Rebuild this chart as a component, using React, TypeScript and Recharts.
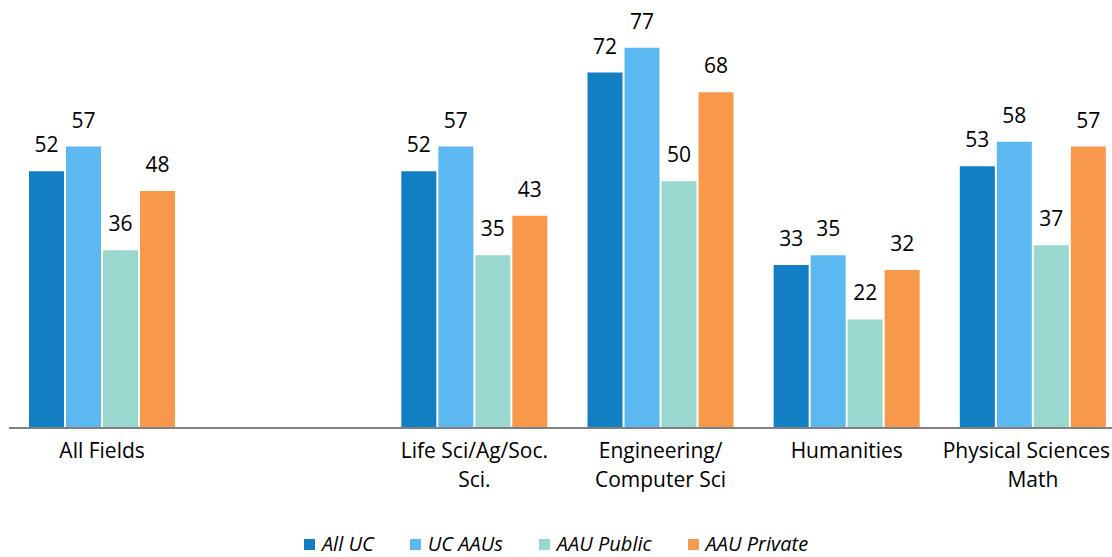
import { BarChart, Bar, XAxis, YAxis, LabelList, Legend } from "recharts";

const categories = [
  "All Fields",
  "",
  "Life Sci/Ag/Soc.\nSci.",
  "Engineering/\nComputer Sci",
  "Humanities",
  "Physical Sciences /\nMath",
];
const allUC = [52, null, 52, 72, 33, 53];
const ucAAUs = [57, null, 57, 77, 35, 58];
const aauPublic = [36, null, 35, 50, 22, 37];
const aauPrivate = [48, null, 43, 68, 32, 57];

const SERIES = [
  { key: "allUC", name: "All UC", color: "#127fc5" },
  { key: "ucAAUs", name: "UC AAUs", color: "#5bb8f0" },
  { key: "aauPublic", name: "AAU Public", color: "#98d8cf" },
  { key: "aauPrivate", name: "AAU Private", color: "#f7984a" },
];

const data = categories.map((name, i) => ({
  name,
  allUC: allUC[i],
  ucAAUs: ucAAUs[i],
  aauPublic: aauPublic[i],
  aauPrivate: aauPrivate[i],
}));

const FONT = "'Open Sans', sans-serif";

function CategoryTick({ x, y, payload }: any) {
  const lines = String(payload.value).split("\n");
  return (
    <text
      x={x}
      y={y}
      textAnchor="middle"
      fontFamily={FONT}
      fontSize={21}
      fill="#000"
    >
      {lines.map((line, i) => (
        <tspan key={i} x={x} dy={i === 0 ? 22 : 29}>
          {line}
        </tspan>
      ))}
    </text>
  );
}

function LegendRow() {
  return (
    <div
      style={{
        display: "flex",
        justifyContent: "center",
        gap: 36,
        fontFamily: FONT,
        fontSize: 20,
        fontStyle: "italic",
        color: "#000",
        lineHeight: "24px",
      }}
    >
      {SERIES.map((s) => (
        <span key={s.key} style={{ display: "flex", alignItems: "center" }}>
          <span
            style={{
              width: 11,
              height: 11,
              background: s.color,
              marginRight: 7,
              display: "inline-block",
            }}
          />
          {s.name}
        </span>
      ))}
    </div>
  );
}

export default function App() {
  return (
    <div
      style={{
        position: "absolute",
        left: 0,
        top: 0,
        width: 1112,
        height: 557,
        overflow: "hidden",
        background: "#fff",
      }}
    >
      <BarChart
        width={1126}
        height={557}
        data={data}
        margin={{ top: 33, right: 0, bottom: 0, left: 9 }}
        barSize={35}
        barGap={2}
      >
        <XAxis
          dataKey="name"
          axisLine={{ stroke: "#808080", strokeWidth: 2 }}
          tickLine={false}
          tick={<CategoryTick />}
          interval={0}
          height={105}
        />
        <YAxis hide domain={[0, 80]} />
        <Legend
          verticalAlign="bottom"
          content={<LegendRow />}
          wrapperStyle={{ bottom: 1, left: 0, width: 1112, height: 24 }}
        />
        {SERIES.map((s) => (
          <Bar key={s.key} dataKey={s.key} fill={s.color} isAnimationActive={false}>
            <LabelList
              dataKey={s.key}
              position="top"
              offset={19}
              fontFamily={FONT}
              fontSize={21}
              fill="#000"
            />
          </Bar>
        ))}
      </BarChart>
    </div>
  );
}
